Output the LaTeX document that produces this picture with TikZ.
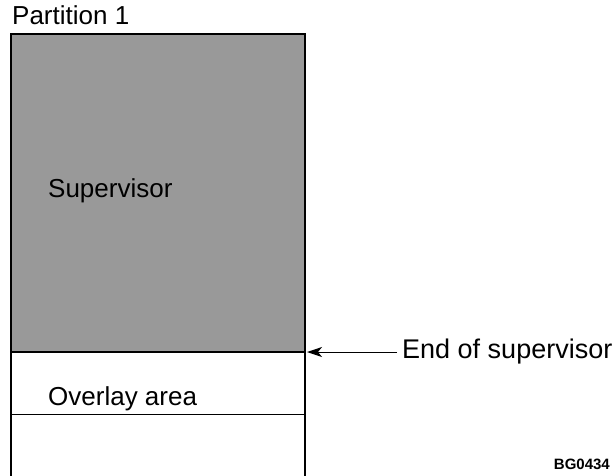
\documentclass[tikz,border=0pt]{standalone}
\usepackage{fontspec}
\setmainfont{Liberation Sans}
\usetikzlibrary{arrows.meta}

\begin{document}
\begin{tikzpicture}[x=1pt,y=-1pt,>={Stealth[length=15pt,width=10pt,inset=4pt]},
  lbl/.style={anchor=base west,inner sep=0pt,font=\fontsize{26}{30}\selectfont}]
\useasboundingbox (0,0) rectangle (614,476);
% supervisor part of the partition
\fill[black!40] (11,34) rectangle (305,352);
\draw[line width=2pt] (11,476) -- (11,34) -- (305,34) -- (305,476);
\draw[line width=1.5pt] (11,352) -- (305,352);
\draw[line width=1pt] (11,414) -- (305,414);
\node[lbl] (part) at (12,25) {Partition 1};
\node[lbl] (sup) at (48,198) {Supervisor};
\node[lbl] (ovl) at (48,405) {Overlay area};
\node[lbl,font=\fontsize{27}{30}\selectfont] (endsup) at (402,359) {End of supervisor};
\coordinate (svend) at (307,352);
\draw[->,line width=1pt,shorten <=5pt] (endsup.west) -- (endsup.west -| svend);
\node[anchor=base east,inner sep=0pt,font=\bfseries\fontsize{15}{17}\selectfont] (fig) at (610,469) {BG0434};
\end{tikzpicture}
\end{document}
